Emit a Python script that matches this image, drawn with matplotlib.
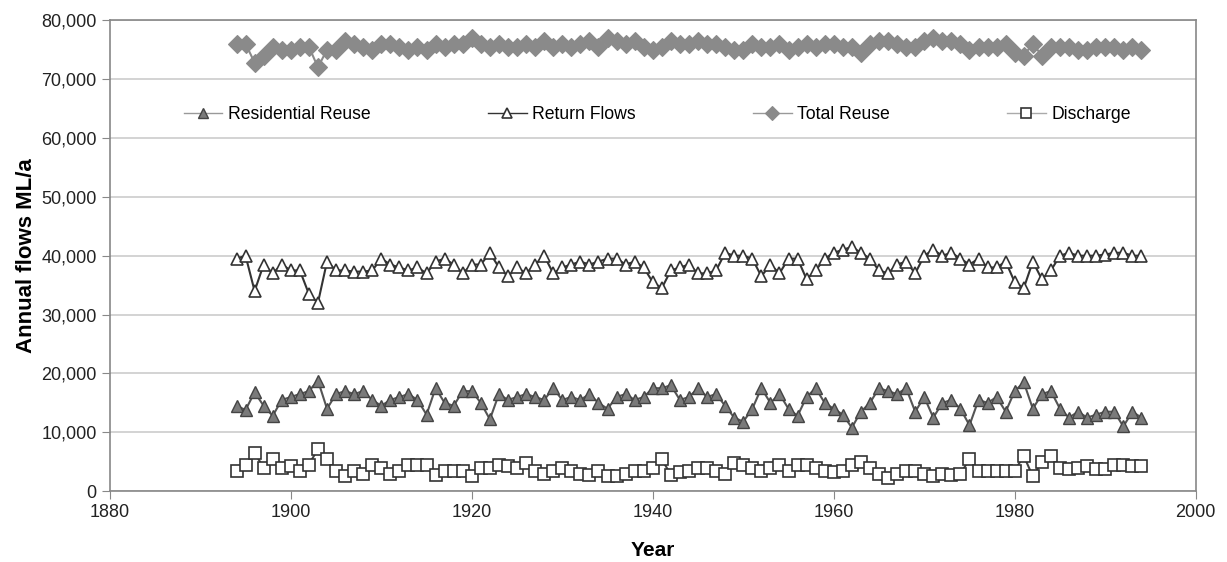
import matplotlib
matplotlib.use('Agg')
import matplotlib.pyplot as plt
import numpy as np
from matplotlib.ticker import FuncFormatter

plt.rcParams['font.family'] = ['Liberation Sans', 'DejaVu Sans']

# annual values, 1894-1994 (thousand ML/a)
years = np.arange(1894, 1995)

residential = [
    14.5, 13.8, 16.8, 14.5, 12.8, 15.5,                                  # 1894-1899
    16.0, 16.5, 17.0, 18.8, 14.0, 16.5, 17.0, 16.5, 17.0, 15.5,          # 1900s
    14.5, 15.5, 16.0, 16.5, 15.5, 13.0, 17.5, 15.0, 14.5, 17.0,          # 1910s
    17.0, 15.0, 12.2, 16.5, 15.5, 16.0, 16.5, 16.0, 15.5, 17.5,          # 1920s
    15.5, 16.0, 15.5, 16.5, 15.0, 14.0, 16.0, 16.5, 15.5, 16.0,          # 1930s
    17.5, 17.5, 18.0, 15.5, 16.0, 17.5, 16.0, 16.5, 14.5, 12.5,          # 1940s
    11.8, 14.0, 17.5, 15.0, 16.5, 14.0, 12.8, 16.0, 17.5, 15.0,          # 1950s
    14.0, 13.0, 10.8, 13.5, 15.0, 17.5, 17.0, 16.5, 17.5, 13.5,          # 1960s
    16.0, 12.5, 15.0, 15.5, 14.0, 11.2, 15.5, 15.0, 16.0, 13.5,          # 1970s
    17.0, 18.5, 14.0, 16.5, 17.0, 14.0, 12.5, 13.5, 12.5, 13.0,          # 1980s
    13.5, 13.5, 11.0, 13.5, 12.5,                                        # 1990-1994
]

return_flows = [
    39.5, 40.0, 34.0, 38.5, 37.0, 38.5,
    37.5, 37.5, 33.5, 32.0, 39.0, 37.5, 37.5, 37.3, 37.3, 37.5,
    39.5, 38.5, 38.0, 37.5, 38.0, 37.0, 39.0, 39.5, 38.5, 37.0,
    38.5, 38.5, 40.5, 38.0, 36.5, 38.0, 37.0, 38.5, 40.0, 37.0,
    38.0, 38.5, 39.0, 38.5, 39.0, 39.5, 39.5, 38.5, 39.0, 38.0,
    35.5, 34.5, 37.5, 38.0, 38.5, 37.0, 37.0, 37.5, 40.5, 40.0,
    40.0, 39.5, 36.5, 38.5, 37.0, 39.5, 39.5, 36.0, 37.5, 39.5,
    40.5, 41.0, 41.5, 40.5, 39.5, 37.5, 37.0, 38.5, 39.0, 37.0,
    40.0, 41.0, 40.0, 40.5, 39.5, 38.5, 39.5, 38.0, 38.0, 39.0,
    35.5, 34.5, 39.0, 36.0, 37.5, 40.0, 40.5, 40.0, 40.0, 40.0,
    40.2, 40.5, 40.5, 40.0, 40.0,
]

total_reuse = [
    76.0, 76.0, 72.8, 74.0, 75.5, 75.0,
    75.0, 75.5, 75.5, 72.0, 75.0, 75.0, 76.5, 76.0, 75.5, 75.0,
    76.0, 76.0, 75.5, 75.0, 75.5, 75.0, 76.0, 75.5, 76.0, 76.0,
    77.0, 76.0, 75.5, 76.0, 75.5, 75.5, 76.0, 75.5, 76.5, 75.5,
    76.0, 75.5, 76.0, 76.5, 75.5, 77.0, 76.5, 76.0, 76.5, 75.5,
    75.0, 75.5, 76.5, 76.0, 76.0, 76.5, 76.0, 76.0, 75.5, 75.0,
    75.0, 76.0, 75.5, 75.5, 76.0, 75.0, 75.5, 76.0, 75.5, 76.0,
    76.0, 75.5, 75.5, 74.5, 76.0, 76.5, 76.5, 76.0, 75.5, 75.5,
    76.5, 77.0, 76.5, 76.5, 76.0, 75.0, 75.5, 75.5, 75.5, 76.0,
    74.5, 74.0, 76.0, 74.0, 75.5, 75.5, 75.5, 75.0, 75.0, 75.5,
    75.5, 75.5, 75.0, 75.5, 75.0,
]

discharge = [
    3.4, 4.5, 6.5, 4.0, 5.4, 4.0,
    4.2, 3.5, 4.5, 7.2, 5.5, 3.5, 2.5, 3.5, 3.0, 4.5,
    4.0, 3.0, 3.5, 4.5, 4.5, 4.5, 2.8, 3.5, 3.5, 3.5,
    2.5, 4.0, 4.0, 4.5, 4.2, 4.0, 4.8, 3.5, 3.0, 3.5,
    4.0, 3.5, 3.0, 2.8, 3.5, 2.5, 2.5, 3.0, 3.5, 3.5,
    4.0, 5.4, 2.8, 3.2, 3.5, 4.0, 4.0, 3.5, 3.0, 4.8,
    4.5, 4.0, 3.5, 4.0, 4.5, 3.5, 4.5, 4.5, 4.0, 3.5,
    3.2, 3.5, 4.5, 5.0, 4.0, 3.0, 2.3, 3.0, 3.5, 3.5,
    3.0, 2.5, 3.0, 2.8, 3.0, 5.4, 3.5, 3.5, 3.5, 3.5,
    3.5, 6.0, 2.5, 5.0, 6.0, 4.0, 3.8, 4.0, 4.2, 3.8,
    3.8, 4.5, 4.5, 4.2, 4.2,
]

fig = plt.figure(figsize=(12.27, 5.62), dpi=100)
ax = fig.add_axes([0.0895, 0.126, 0.885, 0.838])

ms = 9
ax.plot(years, np.array(residential) * 1000, color='#555555', lw=1.5,
        marker='^', ms=ms, mfc='#7a7a7a', mec='#444444', mew=1.0,
        label='Residential Reuse')
ax.plot(years, np.array(return_flows) * 1000, color='#333333', lw=1.5,
        marker='^', ms=ms, mfc='white', mec='#333333', mew=1.2,
        label='Return Flows')
ax.plot(years, np.array(total_reuse) * 1000, color='#8a8a8a', lw=1.5,
        marker='D', ms=ms, mfc='#8a8a8a', mec='#8a8a8a', mew=0.8,
        label='Total Reuse')
ax.plot(years, np.array(discharge) * 1000, color='#444444', lw=1.5,
        marker='s', ms=ms, mfc='white', mec='#333333', mew=1.2,
        label='Discharge')

ax.set_xlim(1880, 2000)
ax.set_ylim(0, 80000)
ax.set_xticks(range(1880, 2001, 20))
ax.set_yticks(range(0, 80001, 10000))
ax.yaxis.set_major_formatter(FuncFormatter(lambda v, p: '{:,.0f}'.format(v)))
ax.tick_params(labelsize=13, length=6, color='#888888', labelcolor='#222222')

ax.grid(axis='y', color='#cccccc', lw=1.2)
ax.set_axisbelow(True)
for s in ax.spines.values():
    s.set_color('#888888')
    s.set_linewidth(1.2)

ax.set_xlabel('Year', fontsize=15, fontweight='bold', labelpad=14)
ax.set_ylabel('Annual flows ML/a', fontsize=16, fontweight='bold', labelpad=3)

leg = ax.legend(loc='center', bbox_to_anchor=(0.068, 0.765, 0.872, 0.07),
                mode='expand', ncol=4, frameon=False, fontsize=12.7,
                handlelength=2.2, handletextpad=0.3, borderaxespad=0,
                borderpad=0, markerscale=0.75)
# legend line colours as in the key
for line, c in zip(leg.get_lines(), ['#999999', '#333333', '#999999', '#aaaaaa']):
    line.set_color(c)
    line.set_linewidth(1.0)

fig.savefig('out.png', dpi=100)
